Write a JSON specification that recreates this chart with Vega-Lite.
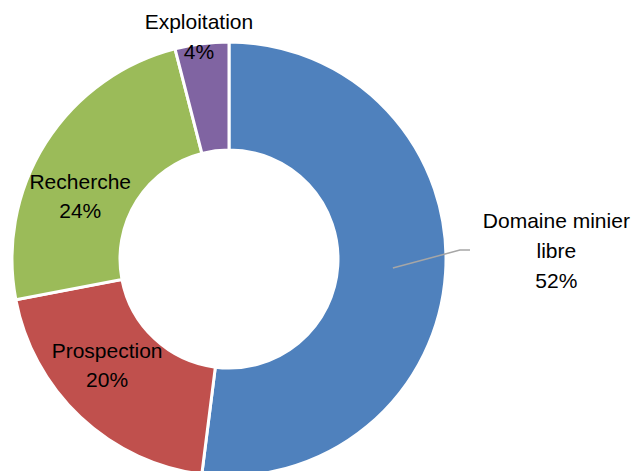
{
  "$schema": "https://vega.github.io/schema/vega-lite/v6.json",
  "autosize": {"type": "none"},
  "width": 458,
  "height": 518,
  "padding": {"left": 0, "top": 0, "right": 183, "bottom": 0},
  "background": "white",
  "view": {"stroke": null},
  "data": {
    "values": [
      {"category": "Domaine minier\nlibre", "value": 52, "order": 1},
      {"category": "Prospection", "value": 20, "order": 2},
      {"category": "Recherche", "value": 24, "order": 3},
      {"category": "Exploitation", "value": 4, "order": 4}
    ]
  },
  "transform": [
    {"stack": "value", "groupby": [], "sort": [{"field": "order", "order": "ascending"}], "as": ["v0", "v1"]},
    {"calculate": "(datum.v0 + datum.v1) / 2", "as": "mid"},
    {"calculate": "datum.category + '\\n' + datum.value + '%'", "as": "label"}
  ],
  "layer": [
    {
      "mark": {"type": "arc", "outerRadius": 217, "innerRadius": 109, "stroke": "white", "strokeWidth": 3},
      "encoding": {
        "theta": {"field": "v0", "type": "quantitative", "scale": {"domain": [0, 100]}},
        "theta2": {"field": "v1"},
        "color": {
          "field": "category",
          "type": "nominal",
          "scale": {
            "domain": ["Domaine minier\nlibre", "Prospection", "Recherche", "Exploitation"],
            "range": ["#4F81BD", "#C0504D", "#9BBB59", "#8064A2"]
          },
          "legend": null
        }
      }
    },
    {
      "transform": [{"filter": "datum.order == 1"}],
      "mark": {"type": "point", "shape": "M0.68,0.037L0.958,-0.037L1,-0.037", "size": 232324, "filled": false, "stroke": "#A6A6A6", "strokeWidth": 1.5, "opacity": 1},
      "encoding": {}
    },
    {
      "transform": [{"filter": "datum.order == 1"}],
      "mark": {"type": "text", "radius": 328, "dy": -58, "font": "Liberation Sans", "fontSize": 21, "lineHeight": 30, "lineBreak": "\n", "color": "black", "align": "center", "baseline": "middle"},
      "encoding": {
        "theta": {"field": "mid", "type": "quantitative", "scale": {"domain": [0, 100]}},
        "text": {"field": "label"}
      }
    },
    {
      "transform": [{"filter": "datum.order == 2"}],
      "mark": {"type": "text", "radius": 162, "dx": -11, "dy": -25, "font": "Liberation Sans", "fontSize": 21, "lineHeight": 29, "lineBreak": "\n", "color": "black", "align": "center", "baseline": "middle"},
      "encoding": {
        "theta": {"field": "mid", "type": "quantitative", "scale": {"domain": [0, 100]}},
        "text": {"field": "label"}
      }
    },
    {
      "transform": [{"filter": "datum.order == 3"}],
      "mark": {"type": "text", "radius": 162, "dx": -12, "dy": 11, "font": "Liberation Sans", "fontSize": 21, "lineHeight": 29, "lineBreak": "\n", "color": "black", "align": "center", "baseline": "middle"},
      "encoding": {
        "theta": {"field": "mid", "type": "quantitative", "scale": {"domain": [0, 100]}},
        "text": {"field": "label"}
      }
    },
    {
      "transform": [{"filter": "datum.order == 4"}],
      "mark": {"type": "text", "radius": 224, "dx": -2, "dy": -14, "font": "Liberation Sans", "fontSize": 21, "lineHeight": 30, "lineBreak": "\n", "color": "black", "align": "center", "baseline": "middle"},
      "encoding": {
        "theta": {"field": "mid", "type": "quantitative", "scale": {"domain": [0, 100]}},
        "text": {"field": "label"}
      }
    }
  ]
}
